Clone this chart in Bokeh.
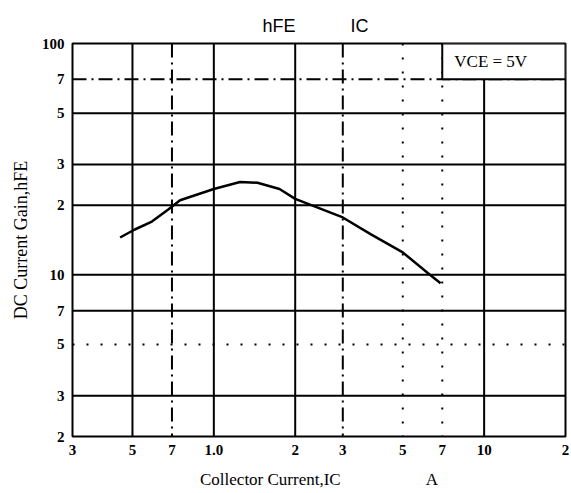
from bokeh.plotting import figure
from bokeh.models import FixedTicker, Span, BoxAnnotation, Label
from bokeh.embed import file_html
from bokeh.resources import INLINE

# ---- data ----
ic_a = [0.45, 0.51, 0.59, 0.68, 0.75, 1.0, 1.25, 1.45, 1.75, 2.0, 3.0, 3.8, 5.0, 6.3, 6.9]
hfe = [14.5, 15.7, 17.0, 19.2, 21.0, 23.5, 25.2, 25.0, 23.5, 21.3, 17.7, 15.0, 12.5, 10.0, 9.2]

x_ticks = [0.3, 0.5, 0.7, 1.0, 2.0, 3.0, 5.0, 7.0, 10.0, 20.0]
x_tick_labels = ["3", "5", "7", "1.0", "2", "3", "5", "7", "10", "2"]
y_ticks = [2.0, 3.0, 5.0, 7.0, 10.0, 20.0, 30.0, 50.0, 70.0, 100.0]
y_tick_labels = ["2", "3", "5", "7", "10", "2", "3", "5", "7", "100"]

x_grid_solid = [0.5, 1.0, 2.0, 10.0]
x_grid_dashdot = [0.7, 3.0]
x_grid_dotted = [5.0, 7.0]
y_grid_solid = [3.0, 7.0, 10.0, 20.0, 30.0, 50.0]
y_grid_dashdot = [70.0]
y_grid_dotted = [5.0]

cond_box = dict(left=7.0, right=20.0, bottom=70.0, top=100.0)

NB = "\u00a0"
cond_text = "VCE" + NB + "=" + NB + "5V"
heading = "hFE" + NB * 11 + "IC"
x_title = "Collector Current,IC" + NB * 20 + "A"
y_title = "DC Current Gain,hFE"

p = figure(width=569, height=491, x_axis_type="log", y_axis_type="log",
           x_range=(0.3, 20), y_range=(2, 100),
           output_backend="svg", toolbar_location=None,
           min_border_left=72, min_border_right=4, min_border_top=43, min_border_bottom=54,
           background_fill_color="white", border_fill_color="white")

p.title.text = heading
p.title.align = "left"
p.title.offset = 190
p.title.standoff = 16
p.title.text_font = "Liberation Sans"
p.title.text_font_size = "18px"
p.title.text_font_style = "normal"
p.title.text_color = "black"

p.xgrid.grid_line_color = None
p.ygrid.grid_line_color = None

styles = {"solid": "solid", "dashdot": "14 5 2 5", "dotted": "2 12"}
for dim, groups in (("height", (("solid", x_grid_solid), ("dashdot", x_grid_dashdot), ("dotted", x_grid_dotted))),
                    ("width", (("solid", y_grid_solid), ("dashdot", y_grid_dashdot), ("dotted", y_grid_dotted)))):
    for style, locs in groups:
        for loc in locs:
            p.add_layout(Span(location=loc, dimension=dim, line_color="black",
                              line_width=2, line_dash=styles[style], level="underlay"))

for ax, ticks, labels in ((p.xaxis[0], x_ticks, x_tick_labels), (p.yaxis[0], y_ticks, y_tick_labels)):
    ax.ticker = FixedTicker(ticks=ticks)
    ax.major_label_overrides = dict(zip(ticks, labels))
    ax.major_tick_line_color = None
    ax.minor_tick_line_color = None
    ax.axis_line_color = None
    ax.major_label_standoff = 2
    ax.major_label_text_font = "Liberation Serif"
    ax.major_label_text_font_style = "bold"
    ax.major_label_text_font_size = "15px"
    ax.major_label_text_color = "black"
    ax.axis_label_text_font = "Liberation Serif"
    ax.axis_label_text_font_style = "normal"
    ax.axis_label_text_color = "black"

p.xaxis.axis_label = x_title
p.xaxis.axis_label_text_font_size = "17px"
p.xaxis.axis_label_standoff = 12
p.yaxis.axis_label = y_title
p.yaxis.axis_label_text_font_size = "18px"
p.yaxis.axis_label_standoff = 8

p.outline_line_color = "black"
p.outline_line_width = 2
p.outline_line_alpha = 1

p.line(ic_a, hfe, line_color="black", line_width=2.5)

box = BoxAnnotation(fill_color="white", fill_alpha=1, line_color="black",
                    line_width=2, line_alpha=1, **cond_box)
p.add_layout(box)
p.add_layout(Label(x=cond_box["left"], y=(cond_box["bottom"] * cond_box["top"]) ** 0.5,
                   text=cond_text, x_offset=12, text_baseline="middle",
                   text_font="Liberation Serif", text_font_size="17px", text_color="black"))

open("out.html", "w").write(file_html(p, INLINE))
